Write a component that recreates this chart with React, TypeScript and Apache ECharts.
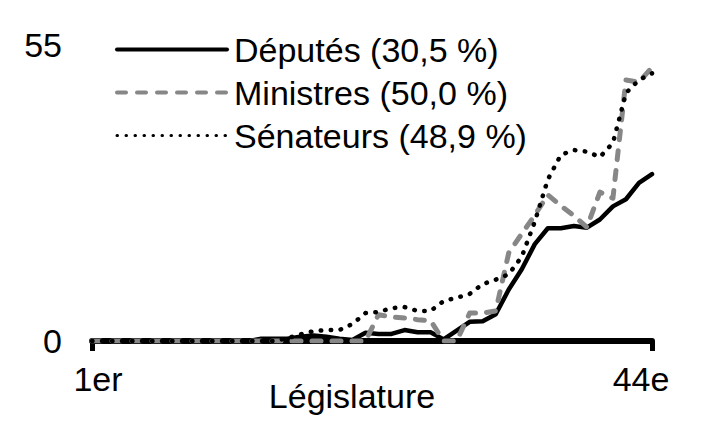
import { useRef, useEffect } from 'react'
import * as echarts from 'echarts'

// Legislatures 1 to 44
const legislatures = Array.from({ length: 44 }, (_, i) => (i === 0 ? '1er' : `${i + 1}e`))

const deputes = [
  0, 0, 0, 0, 0, 0, 0, 0, 0, 0, 0, 0, 0,
  0.4, 0.4, 0.4, 0.8, 1.0, 0.8, 0.4, 0.2, 1.5, 1.3, 1.3, 2.0, 1.6, 1.6, 0.3, 1.9, 3.5,
  3.6, 4.9, 9.4, 13.1, 17.7, 20.6, 20.6, 21.0, 20.7, 22.2, 24.6, 25.9, 28.9, 30.5,
]
const ministres = [
  0, 0, 0, 0, 0, 0, 0, 0, 0, 0, 0, 0, 0, 0, 0, 0, 0, 0, 0, 0, 0, 0,
  4.8, 4.4, 4.2, 3.9, 3.7, 0, 0, 5.1, 5.1, 5.5, 16.1, 19.6, 23.0, 26.7, 24.7, 22.9,
  20.8, 27.2, 26.1, 47.7, 47.3, 50.0,
]
const senateurs = [
  0, 0, 0, 0, 0, 0, 0, 0, 0, 0, 0, 0, 0, 0, 0,
  0.5, 1.2, 1.8, 2.0, 2.0, 3.1, 5.1, 5.3, 6.0, 6.2, 5.5, 5.5, 7.3, 7.9, 8.6, 10.4,
  11.2, 12.2, 15.4, 21.8, 29.5, 34.0, 34.9, 34.6, 33.6, 36.2, 45.3, 47.7, 48.9,
]

const seriesNames = ['Députés (30,5 %)', 'Ministres (50,0 %)', 'Sénateurs (48,9 %)']
const yTicks = [0, 55]

const FONT = "'Liberation Sans', Arial, sans-serif"
const FS = 34
const GREY = '#878787'

export default function App() {
  const chartRef = useRef<HTMLDivElement>(null)

  useEffect(() => {
    if (!chartRef.current) return
    const chart = echarts.init(chartRef.current, undefined, { renderer: 'svg' })
    const last = legislatures.length - 1

    chart.setOption({
      animation: false,
      backgroundColor: '#fff',
      textStyle: { fontFamily: FONT, color: '#000' },
      grid: { left: 92, right: 66, top: 40, bottom: 97 },
      legend: {
        orient: 'vertical',
        left: 110,
        top: 23,
        itemWidth: 110,
        itemHeight: 10,
        itemGap: 0,
        itemStyle: { opacity: 0, borderWidth: 0 },
        textStyle: { fontSize: FS, lineHeight: 43, color: '#000', fontFamily: FONT, padding: [0, 0, 0, 2] },
        lineStyle: { width: 4 },
        data: [
          { name: seriesNames[0] },
          { name: seriesNames[1] },
          { name: seriesNames[2], lineStyle: { width: 3, type: [0.5, 8.5] } },
        ],
      },
      xAxis: {
        type: 'category',
        boundaryGap: false,
        data: legislatures,
        name: 'Législature',
        nameLocation: 'middle',
        nameGap: 38,
        nameMoveOverlap: false,
        nameTextStyle: { fontSize: FS, color: '#000', fontFamily: FONT, padding: [0, 40, 0, 0] },
        axisLine: { lineStyle: { color: '#000', width: 6 } },
        axisTick: {
          show: true,
          interval: (i: number) => i === 0 || i === last,
          length: 10,
          lineStyle: { color: '#000', width: 5 },
        },
        axisLabel: {
          interval: (i: number) => i === 0 || i === last,
          margin: 21,
          fontSize: FS,
          color: '#000',
          fontFamily: FONT,
          formatter: (v: string, i: number) => (i === 0 ? `{a|${v}}` : `{b|${v}}`),
          rich: {
            a: { fontSize: FS, fontFamily: FONT, color: '#000', padding: [0, 0, 0, 12] },
            b: { fontSize: FS, fontFamily: FONT, color: '#000', padding: [0, 22, 0, 0] },
          },
        },
        splitLine: { show: false },
      },
      yAxis: {
        type: 'value',
        min: yTicks[0],
        max: yTicks[1],
        interval: yTicks[1] - yTicks[0],
        axisLine: { show: false },
        axisTick: { show: false },
        splitLine: { show: false },
        axisLabel: {
          margin: 30,
          fontSize: FS,
          color: '#000',
          fontFamily: FONT,
          formatter: (v: number) => (v === yTicks[1] ? `{t|${v}}` : `${v}`),
          rich: { t: { fontSize: FS, fontFamily: FONT, color: '#000', padding: [10, 0, 0, 0] } },
        },
      },
      series: [
        {
          name: seriesNames[0], type: 'line', data: deputes,
          symbol: 'none', showSymbol: false,
          lineStyle: { color: '#000', width: 4.5, cap: 'round', join: 'round' },
          itemStyle: { color: '#000' },
        },
        {
          name: seriesNames[1], type: 'line', data: ministres,
          symbol: 'none', showSymbol: false,
          lineStyle: { color: GREY, width: 5, type: [9, 11], cap: 'round', join: 'round' },
          itemStyle: { color: GREY },
        },
        {
          name: seriesNames[2], type: 'line', data: senateurs,
          symbol: 'none', showSymbol: false,
          lineStyle: { color: '#000', width: 4.5, type: [0.5, 9.5], cap: 'round', join: 'round' },
          itemStyle: { color: '#000' },
        },
      ],
    })

    return () => chart.dispose()
  }, [])

  return (
    <div style={{ position: 'fixed', left: 0, top: 0, width: 718, height: 438, background: '#fff' }}>
      <div ref={chartRef} style={{ width: 718, height: 438 }} />
    </div>
  )
}
